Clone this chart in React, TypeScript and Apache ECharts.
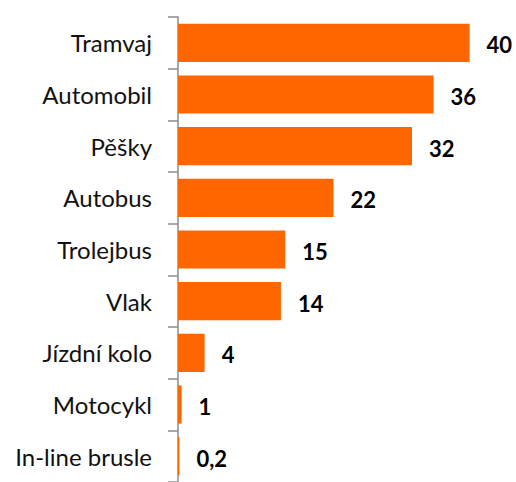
import React, { useEffect, useRef } from "react";
import * as echarts from "echarts";

const categories = ["Tramvaj", "Automobil", "Pěšky", "Autobus", "Trolejbus", "Vlak", "Jízdní kolo", "Motocykl", "In-line brusle"];
const values = [40.5, 35.5, 32.5, 21.6, 14.9, 14.3, 3.7, 0.5, 0.2];
const valueLabels = ["40", "36", "32", "22", "15", "14", "4", "1", "0,2"];

export default function App() {
  const ref = useRef<HTMLDivElement>(null);
  useEffect(() => {
    if (!ref.current) return;
    const chart = echarts.init(ref.current, null, { renderer: "svg" });
    chart.setOption({
      animation: false,
      grid: { left: 178, right: 14, top: 17, bottom: -8, containLabel: false },
      xAxis: {
        type: "value",
        min: 0,
        max: 45,
        show: false,
      },
      yAxis: {
        type: "category",
        data: categories,
        inverse: true,
        axisLine: { show: true, lineStyle: { color: "#8c8c8c", width: 1.5 } },
        axisTick: { show: true, length: 10, lineStyle: { color: "#8c8c8c", width: 1.5 } },
        axisLabel: { color: "#111", fontFamily: "Lato", fontSize: 24, margin: 26 },
        splitLine: { show: false },
      },
      series: [
        {
          type: "bar",
          data: values,
          barCategoryGap: "26%",
          itemStyle: { color: "#FF6600" },
          label: {
            show: true,
            position: "right",
            distance: 17,
            color: "#000",
            fontFamily: "Lato",
            fontWeight: "bold",
            fontSize: 22,
            offset: [0, 2],
            formatter: (p: any) => valueLabels[p.dataIndex],
          },
        },
      ],
    });
    return () => chart.dispose();
  }, []);
  return (
    <div
      ref={ref}
      style={{ position: "fixed", left: 0, top: 0, width: 516, height: 482, background: "#fff" }}
    />
  );
}
